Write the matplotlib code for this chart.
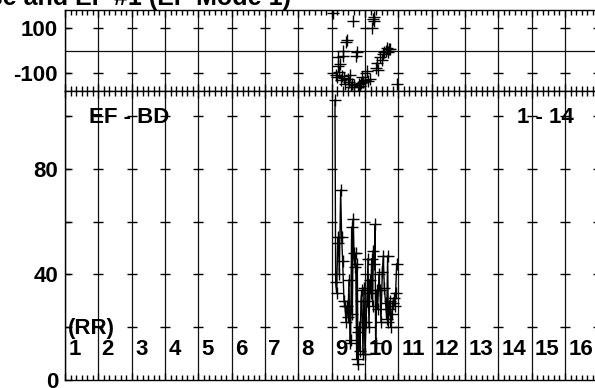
import numpy as np
import matplotlib
matplotlib.use("Agg")
import matplotlib.pyplot as plt
from matplotlib.ticker import MultipleLocator

plt.rcParams['font.family'] = ['Liberation Sans', 'DejaVu Sans']
plt.rcParams['font.weight'] = 'bold'

# ---------------- data ----------------
title_text = "Phase and EF #1 (EF Mode 1)"
col_labels = ["1", "2", "3", "4", "5", "6", "7", "8", "9", "10",
              "11", "12", "13", "14", "15", "16"]
bot_yticks = [0, 20, 40, 60, 80, 100]
bot_yticklabels = ["0", "", "40", "", "80", ""]
top_yticks = [-100, 100]
top_yticklabels = ["-100", "100"]

# bottom panel (RR series)
rr_x = [8.10, 8.12, 8.15, 8.18, 8.20, 8.23, 8.27, 8.30, 8.33, 8.37,
        8.40, 8.43, 8.45, 8.49, 8.52, 8.55, 8.57, 8.60, 8.62, 8.65,
        8.67, 8.70, 8.72, 8.75, 8.77, 8.79, 8.80, 8.83, 8.85, 8.88,
        8.90, 8.94, 8.97, 9.00, 9.03, 9.06, 9.09, 9.12, 9.15, 9.18,
        9.20, 9.23, 9.25, 9.28, 9.30, 9.32, 9.35, 9.38, 9.42, 9.45,
        9.48, 9.52, 9.55, 9.58, 9.62, 9.65, 9.68, 9.70, 9.73, 9.75,
        9.78, 9.80, 9.83, 9.86, 9.89, 9.92, 9.95]
rr_y = [106, 37, 33, 52, 54, 40, 72, 54, 45, 30,
        28, 22, 28, 24, 38, 14, 15, 58, 25, 61,
        48, 43, 48, 8, 44, 6, 18, 20, 11, 30,
        34, 10, 35, 10, 22, 30, 46, 20, 38, 33,
        46, 28, 49, 44, 59, 14, 34, 27, 40, 34,
        22, 41, 47, 35, 29, 23, 47, 22, 27, 30,
        20, 25, 29, 31, 28, 33, 44]

# top panel (phase scatter)
ph_x = [8.05, 8.12, 8.15, 8.18, 8.20, 8.22, 8.25, 8.28, 8.30, 8.33,
        8.35, 8.38, 8.40, 8.43, 8.45, 8.48, 8.52, 8.55, 8.58, 8.62,
        8.65, 8.68, 8.72, 8.75, 8.78, 8.82, 8.85, 8.88, 8.92, 8.95,
        9.00, 9.05, 9.10, 9.15, 9.20, 9.23, 9.26, 9.28, 9.32, 9.36,
        9.40, 9.45, 9.50, 9.55, 9.58, 9.62, 9.65, 9.68, 9.72, 9.76,
        9.95]
ph_y = [165, -110, -118, -70, -30, -95, -60, -130, -112, -25,
        0, -120, -150, 37, 46, -125, -140, -110, -160, -150,
        131, -155, -23, -8, -162, -150, -158, -145, -118, -140,
        -130, -92, -135, -125, 100, 138, 150, 129, -76, -55,
        -85, -30, -40, -15, -5, 0, 10, -8, 5, 8,
        -150]

# ---------------- layout ----------------
W, H = 595, 388
fig = plt.figure(figsize=(W / 100, H / 100), dpi=100)
left = 65 / W
width = 533.3 / W
ax_top = fig.add_axes([left, 1 - 91 / H, width, 81 / H])
ax_bot = fig.add_axes([left, 1 - 380 / H, width, 289 / H])

xmax = len(col_labels)
lab_fs = 16

for ax in (ax_top, ax_bot):
    ax.set_xlim(0, xmax)
    ax.xaxis.set_major_locator(MultipleLocator(1))
    ax.xaxis.set_minor_locator(MultipleLocator(1 / 6))
    ax.tick_params(axis='x', which='both', direction='in', top=True,
                   bottom=True, labelbottom=False, colors='black')
    ax.tick_params(axis='x', which='major', length=5, width=1)
    ax.tick_params(axis='x', which='minor', length=3.5, width=1)
    ax.tick_params(axis='y', which='major', direction='in', length=5,
                   width=1, labelsize=lab_fs, pad=5)
    ax.grid(axis='x', which='major', color='#111111', lw=0.9)
    for s in ax.spines.values():
        s.set_linewidth(1.0)
        s.set_color('black')

# top panel
ax_top.set_ylim(-180, 180)
ax_top.set_yticks(top_yticks)
ax_top.set_yticklabels(top_yticklabels, fontweight='bold')
ax_top.axhline(0, color='#111111', lw=0.9)
gx, gy = np.meshgrid(np.arange(0, xmax + 1), top_yticks)
ax_top.plot(gx.ravel(), gy.ravel(), '_', ms=7, mew=1, color='black')
ax_top.plot(ph_x, ph_y, '+', ms=8, mew=1, color='black', linestyle='none')

# bottom panel
ax_bot.set_ylim(0, 109.5)
ax_bot.set_yticks(bot_yticks)
ax_bot.set_yticklabels(bot_yticklabels, fontweight='bold')
gx, gy = np.meshgrid(np.arange(0, xmax + 1), bot_yticks[1:])
ax_bot.plot(gx.ravel(), gy.ravel(), '_', ms=7, mew=1, color='black')
ax_bot.plot(rr_x, rr_y, '-', color='black', lw=1.0, marker='+', ms=8, mew=1)

for i, lab in enumerate(col_labels):
    ax_bot.text(i + 0.1, 11.4, lab, ha='left', va='center',
                fontsize=lab_fs, fontweight='bold')
ax_bot.text(0.09, 19.4, "(RR)", ha='left', va='center',
            fontsize=lab_fs, fontweight='bold')
ax_bot.text(0.72, 99.6, "EF - BD", ha='left', va='center',
            fontsize=lab_fs, fontweight='bold')
ax_bot.text(13.56, 99.6, "1 - 14", ha='left', va='center',
            fontsize=lab_fs, fontweight='bold')

fig.text(291 / W, 1 - 4.5 / H, title_text, ha='right', va='baseline',
         fontsize=18, fontweight='bold')

fig.savefig("out.png", dpi=100)
